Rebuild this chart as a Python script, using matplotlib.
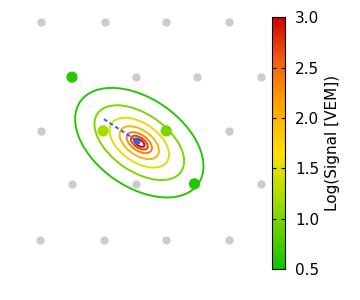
import matplotlib
matplotlib.use("Agg")
import matplotlib.pyplot as plt
import numpy as np
from matplotlib.colors import LinearSegmentedColormap, Normalize
from matplotlib.patches import Ellipse

# station positions [km], core at origin
station_x = [-2.29, -0.76, 0.69, 2.19,
             -1.55, -0.02, 1.43, 2.95,
             -2.29, -0.81, 0.69, 2.19,
             -1.55, -0.02, 1.36, 2.93,
             -2.31, -0.79, 0.69, 2.19]
station_y = [2.83, 2.83, 2.83, 2.83,
             1.52, 1.52, 1.52, 1.52,
             0.24, 0.24, 0.24, 0.24,
             -1.02, -1.02, -1.02, -1.02,
             -2.36, -2.36, -2.36, -2.36]

# triggered stations and their log signals
hit_x = [-1.55, -0.81, 0.69, 1.36]
hit_y = [1.52, 0.24, 0.24, -1.02]
hit_signal = [0.62, 1.2, 1.0, 0.6]

# core and shower axis projection
core = (0.0, 0.0)
axis_start = (-0.79, 0.52)

# LDF contours (level, semi-major, semi-minor in km)
contour_center = (0.05, -0.04)
contour_angle = -35
contour_levels = [0.6, 1.0, 1.5, 2.0, 2.35, 2.7, 2.95]
contour_major = [1.71, 1.21, 0.80, 0.53, 0.34, 0.23, 0.14]
contour_minor = [1.05, 0.68, 0.46, 0.30, 0.19, 0.12, 0.07]

cmap = LinearSegmentedColormap.from_list("sig", [
    (0.0, "#11c400"), (0.28, "#a8dc00"), (0.46, "#ffe000"),
    (0.68, "#ff9a00"), (0.84, "#f05a10"), (1.0, "#cc0000")])
norm = Normalize(vmin=0.5, vmax=3.0)

fig = plt.figure(figsize=(3.6, 3.0), dpi=100)
ax = fig.add_axes([0, 0, 0.74, 1])
ax.set_xlim(-3.26, 3.07)
ax.set_ylim(-3.786, 3.357)
ax.axis("off")

ax.plot(station_x, station_y, "o", color="#cccccc", ms=6, mec="none")

for lev, a, b in zip(contour_levels, contour_major, contour_minor):
    ax.add_patch(Ellipse(contour_center, 2 * a, 2 * b, angle=contour_angle,
                         fill=False, ec=cmap(norm(lev)), lw=1.4))

ax.plot([axis_start[0], core[0]], [axis_start[1], core[1]], "--",
        color="#3a60d8", lw=1.4, dashes=(2, 1.5))
ax.plot(*core, "o", color="#3a60d8", ms=4.5, mec="none")

ax.scatter(hit_x, hit_y, c=hit_signal, cmap=cmap, norm=norm, s=65,
           edgecolors="none", zorder=5)

cax = fig.add_axes([0.756, 0.103, 0.037, 0.84])
cb = fig.colorbar(matplotlib.cm.ScalarMappable(norm=norm, cmap=cmap), cax=cax)
cb.set_ticks([0.5, 1.0, 1.5, 2.0, 2.5, 3.0])
cax.tick_params(direction="in", length=3, left=True, right=True,
                labelsize=11, pad=7)
cb.set_label("Log(Signal [VEM])", fontsize=11, labelpad=4)

fig.savefig("out.png", dpi=100)
